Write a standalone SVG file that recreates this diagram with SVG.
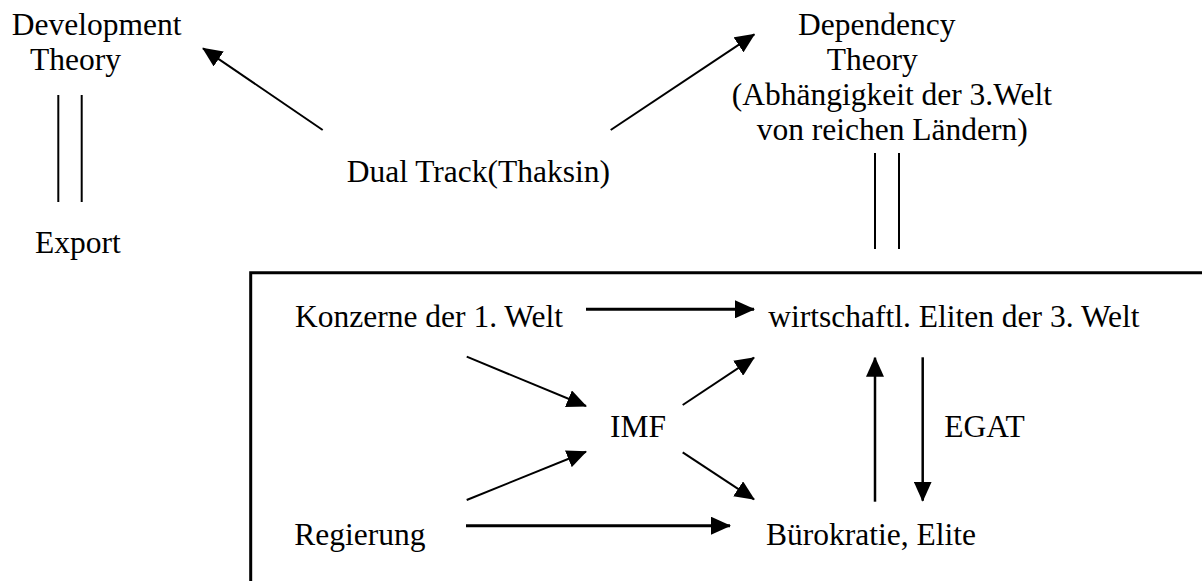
<svg xmlns="http://www.w3.org/2000/svg" width="1202" height="581" viewBox="0 0 1202 581">
<style>
text{font-family:"Liberation Serif","Times New Roman",serif;font-size:31.5px;fill:#000}
.thin{stroke:#000;stroke-width:2;fill:none}
.mid{stroke:#000;stroke-width:2.5;fill:none}
.thick{stroke:#000;stroke-width:3;fill:none}
</style>
<defs>
<marker id="ah" viewBox="0 0 20 18" refX="19" refY="9" markerWidth="20" markerHeight="18" markerUnits="userSpaceOnUse" orient="auto">
<path d="M0,0 L20,9 L0,18 Z" fill="#000"/>
</marker>
</defs>
<rect width="1202" height="581" fill="#fff"/>
<g id="frame"><path class="thick" d="M250.7,581 V272.7 H1202"/></g>
<g id="development"><text x="11.7" y="35">Development</text><text x="30" y="70">Theory</text></g>
<g id="export"><text x="35" y="253">Export</text></g>
<g id="dualtrack"><text x="346.7" y="181.7">Dual Track(Thaksin)</text></g>
<g id="dependency"><text x="798" y="35">Dependency</text><text x="826.7" y="70">Theory</text><text x="731.7" y="105">(Abhängigkeit der 3.Welt</text><text x="756.7" y="140">von reichen Ländern)</text></g>
<g id="konzerne"><text x="295" y="326.7">Konzerne der 1. Welt</text></g>
<g id="eliten"><text x="768.3" y="326.7">wirtschaftl. Eliten der 3. Welt</text></g>
<g id="imf"><text x="610" y="436.7">IMF</text></g>
<g id="egat"><text x="944.3" y="436.7">EGAT</text></g>
<g id="regierung"><text x="294.3" y="545">Regierung</text></g>
<g id="buerokratie"><text x="766" y="545">Bürokratie, Elite</text></g>
<g id="connectors">
<line class="thin" x1="58.3" y1="95" x2="58.3" y2="202"/>
<line class="thin" x1="81.7" y1="95" x2="81.7" y2="202"/>
<line class="thin" x1="875" y1="153" x2="875" y2="249"/>
<line class="thin" x1="899" y1="153" x2="899" y2="249"/>
<line class="thin" x1="322.7" y1="130" x2="203" y2="48.3" marker-end="url(#ah)"/>
<line class="thin" x1="610.7" y1="130" x2="754.3" y2="34.3" marker-end="url(#ah)"/>
<line class="thick" x1="586" y1="309.3" x2="754" y2="309.3" marker-end="url(#ah)"/>
<line class="thin" x1="466.7" y1="356.7" x2="586" y2="406" marker-end="url(#ah)"/>
<line class="thin" x1="466.7" y1="500" x2="586" y2="451.7" marker-end="url(#ah)"/>
<line class="thin" x1="682.7" y1="405" x2="754" y2="357.7" marker-end="url(#ah)"/>
<line class="thin" x1="682.7" y1="452.3" x2="754" y2="499.3" marker-end="url(#ah)"/>
<line class="thick" x1="466" y1="525.7" x2="730" y2="525.7" marker-end="url(#ah)"/>
<line class="mid" x1="875" y1="501.7" x2="875" y2="357.7" marker-end="url(#ah)"/>
<line class="mid" x1="922.7" y1="357.3" x2="922.7" y2="500.7" marker-end="url(#ah)"/>
</g>
</svg>
